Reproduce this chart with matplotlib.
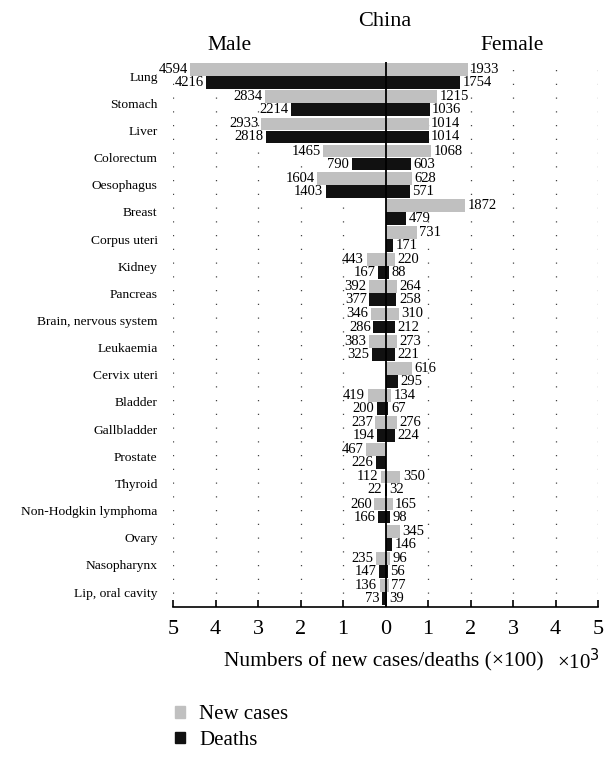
import numpy as np
import matplotlib.pyplot as plt

plt.rcParams["font.family"] = ["Liberation Serif", "DejaVu Serif"]

sites = [
    "Lung", "Stomach", "Liver", "Colorectum", "Oesophagus", "Breast",
    "Corpus uteri", "Kidney", "Pancreas", "Brain, nervous system",
    "Leukaemia", "Cervix uteri", "Bladder", "Gallbladder", "Prostate",
    "Thyroid", "Non-Hodgkin lymphoma", "Ovary", "Nasopharynx",
    "Lip, oral cavity",
]
nan = np.nan
# numbers in hundreds
male_new = [4594, 2834, 2933, 1465, 1604, nan, nan, 443, 392, 346,
            383, nan, 419, 237, 467, 112, 260, nan, 235, 136]
male_deaths = [4216, 2214, 2818, 790, 1403, nan, nan, 167, 377, 286,
               325, nan, 200, 194, 226, 22, 166, nan, 147, 73]
female_new = [1933, 1215, 1014, 1068, 628, 1872, 731, 220, 264, 310,
              273, 616, 134, 276, nan, 350, 165, 345, 96, 77]
female_deaths = [1754, 1036, 1014, 603, 571, 479, 171, 88, 258, 212,
                 221, 295, 67, 224, nan, 32, 98, 146, 56, 39]

gray = "#c0c0c0"
black = "#111111"

fig = plt.figure(figsize=(6.14, 7.57), dpi=100)
ax = fig.add_axes([173 / 614, 1 - 607 / 757, 425 / 614, 545 / 757])

y = np.arange(len(sites))
off = 0.24
h = 0.47


def draw(values, ypos, sign, color):
    v = np.array(values, dtype=float)
    ok = ~np.isnan(v)
    ax.barh(ypos[ok], sign * v[ok] / 1000, height=h, color=color, zorder=2)
    for yy, val in zip(ypos[ok], v[ok]):
        ax.text(sign * (val / 1000 + 0.06), yy, f"{int(val)}",
                ha="left" if sign > 0 else "right", va="center",
                fontsize=10.5, zorder=3)


draw(male_new, y - off, -1, gray)
draw(male_deaths, y + off, -1, black)
draw(female_new, y - off, 1, gray)
draw(female_deaths, y + off, 1, black)

# dotted vertical guides
for gx in range(-5, 6):
    if gx == 0:
        continue
    ax.axvline(gx, color="#444444", linewidth=0.9,
               linestyle=(0, (1, 10)), zorder=1)
ax.axvline(0, color="black", linewidth=1.3, zorder=4)

ax.set_xlim(-5, 5)
ax.set_ylim(19.55, -0.52)
ax.set_yticks(y)
ax.set_yticklabels(sites, fontsize=9.7)
ax.tick_params(axis="y", length=0, pad=11)

ticks = np.arange(-5, 6)
ax.set_xticks(ticks)
ax.set_xticklabels([str(abs(t)) for t in ticks], fontsize=16)
ax.tick_params(axis="x", direction="in", length=5, width=1.2, pad=9)

for s in ["top", "left", "right"]:
    ax.spines[s].set_visible(False)
ax.spines["bottom"].set_linewidth(1.2)

fig.text(385 / 614, 1 - 22 / 757, "China", ha="center", va="center", fontsize=16)
fig.text(229 / 614, 1 - 45 / 757, "Male", ha="center", va="center", fontsize=15.5)
fig.text(512 / 614, 1 - 45 / 757, "Female", ha="center", va="center", fontsize=15.5)

fig.text(384 / 614, 1 - 662 / 757, "Numbers of new cases/deaths (×100)",
         ha="center", va="center", fontsize=15.5)
fig.text(557 / 614, 1 - 662 / 757, r"×10$^3$", ha="left", va="center",
         fontsize=15)

handles = [plt.Rectangle((0, 0), 1, 1, color=gray),
           plt.Rectangle((0, 0), 1, 1, color=black)]
fig.legend(handles, ["New cases", "Deaths"], loc="upper left",
           bbox_to_anchor=(167 / 614, 1 - 697 / 757), frameon=False,
           fontsize=15, handlelength=0.45, handleheight=0.45,
           handletextpad=0.7, labelspacing=0.3, borderaxespad=0)

fig.savefig("out.png", dpi=100)
